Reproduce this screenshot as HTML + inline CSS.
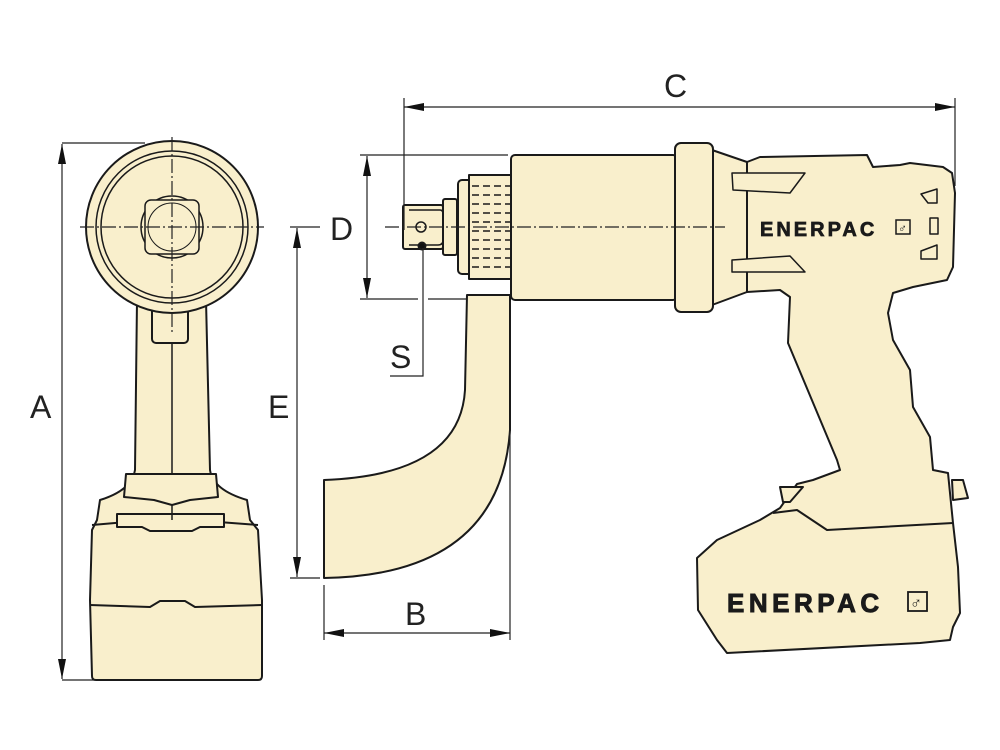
<!DOCTYPE html>
<html><head><meta charset="utf-8"><style>
html,body{margin:0;padding:0;background:#fff;width:1000px;height:750px;overflow:hidden}
svg{display:block}
text{font-family:"Liberation Sans",sans-serif}
</style></head><body>
<svg width="1000" height="750" viewBox="0 0 1000 750" xmlns="http://www.w3.org/2000/svg">
<defs>
<marker id="ar" viewBox="0 0 10 10" refX="10" refY="5" markerWidth="20" markerHeight="8" preserveAspectRatio="none" markerUnits="userSpaceOnUse" orient="auto-start-reverse"><path d="M0,0L10,5L0,10z" fill="#111"/></marker>
</defs>
<g fill="#f9efcc" stroke="#1a1a1a" stroke-width="2" stroke-linejoin="round">
<!-- LEFT VIEW -->
<path d="M137,300 L135,470 Q132,490 100,500 L97,520 L92,530 L90,600 L92,676 Q92,680 96,680 L258,680 Q262,680 262,676 L262,600 L258,530 L250,520 L247,500 Q213,490 210,470 L206,300 Z"/>
<path d="M92,525 L150,520 L192,520 L258,525" fill="none"/>
<path d="M90,605 L150,607 L160,601 L185,601 L195,607 L262,605" fill="none"/>
<path d="M126,474 L216,474 L218,497 L190,500 L172,505 L154,500 L124,497 Z"/>
<path d="M117,514 L224,514 L224,527 L200,527 L192,531 L150,531 L142,527 L117,527 Z"/>
<line x1="172" y1="343" x2="172" y2="474" stroke-width="1.5"/>
<line x1="172" y1="505" x2="172" y2="520" stroke-width="1.5"/>
<rect x="152" y="295" width="36" height="48" rx="4"/>
<circle cx="172" cy="227" r="86"/>
<circle cx="172" cy="227" r="76" stroke-width="1.5"/>
<circle cx="172" cy="227" r="71" stroke-width="1.5"/>
<circle cx="172" cy="227" r="31" stroke-width="1.5"/>
<rect x="145" y="200" width="54" height="54" rx="6" stroke-width="1.5"/>
<circle cx="172" cy="227" r="24" stroke-width="1"/>
<!-- SIDE VIEW arm -->
<path d="M467,295 L465,390 Q460,475 324,480 L324,578 Q500,575 510,430 L510,295 Z"/>
<!-- socket -->
<rect x="403" y="205" width="40" height="44" rx="2"/>
<path d="M409,210 L440,210 Q443,210 443,214 L443,240 Q443,245 438,245 L409,245" fill="none" stroke-width="1.5"/>
<rect x="443" y="199" width="14" height="56" rx="2"/>
<rect x="458" y="180" width="14" height="94" rx="4"/>
<rect x="469" y="175" width="44" height="104"/>
<g stroke-dasharray="7,4" stroke-width="1.5">
<line x1="472" y1="186" x2="511" y2="186"/><line x1="472" y1="195" x2="511" y2="195"/>
<line x1="472" y1="204" x2="511" y2="204"/><line x1="472" y1="213" x2="511" y2="213"/>
<line x1="472" y1="222" x2="511" y2="222"/><line x1="472" y1="231" x2="511" y2="231"/>
<line x1="472" y1="240" x2="511" y2="240"/><line x1="472" y1="249" x2="511" y2="249"/>
<line x1="472" y1="258" x2="511" y2="258"/><line x1="472" y1="267" x2="511" y2="267"/>
</g>
<circle cx="421" cy="227" r="5" stroke-width="1.5"/>
<circle cx="422" cy="246" r="3.5" fill="#111"/>
<rect x="511" y="155" width="166" height="145" rx="4"/>
<!-- handle + battery -->
<path d="M712,150 L747,162 L760,157 L867,155 L873,167 L900,165 L910,163 L943,167 L952,173 L955,193 L953,267 L947,280 L913,287 L893,293 L888,313 L893,340 L910,370 L913,407 L930,437 L933,470 L948,473 L953,523 L958,567 L960,613 L953,627 L950,640 L920,643 L727,653 L717,640 L698,610 L697,558 L717,540 L760,520 L780,508 L797,484 L813,480 L840,470 L837,460 L788,343 L790,297 L780,290 L747,292 L712,305 Z"/>
<path d="M953,523 L827,530 L797,510 L773,513" fill="none"/>
<path d="M780,487 L803,487 L790,502 L783,502 Z"/>
<path d="M952,480 L963,480 L968,498 L953,500 Z"/>
<line x1="747" y1="162" x2="747" y2="292"/>
<path d="M732,173 L805,173 L790,193 L733,190 Z" stroke-width="1.5"/>
<path d="M732,260 L790,256 L805,272 L732,272 Z" stroke-width="1.5"/>
<path d="M921,194 L937,189 L937,203 L928,203 Z" stroke-width="1.5"/>
<rect x="930" y="218" width="8" height="16" stroke-width="1.5"/>
<path d="M921,251 L937,245 L937,259 L921,259 Z" stroke-width="1.5"/>
<rect x="675" y="143" width="38" height="169" rx="6"/>
</g>
<!-- center lines -->
<g stroke="#222" stroke-width="1.2" stroke-dasharray="14,3,2,3" fill="none">
<line x1="80" y1="227" x2="264" y2="227"/>
<line x1="172" y1="137" x2="172" y2="335"/>
<line x1="385" y1="227" x2="725" y2="227"/>
</g>
<!-- dimensions -->
<g stroke="#222" stroke-width="1.2" fill="none">
<line x1="62" y1="143" x2="145" y2="143"/><line x1="62" y1="680" x2="95" y2="680"/>
<line x1="62" y1="144" x2="62" y2="679" marker-start="url(#ar)" marker-end="url(#ar)"/>
<line x1="404" y1="98" x2="404" y2="230"/><line x1="955" y1="98" x2="955" y2="186"/>
<line x1="404" y1="107" x2="955" y2="107" marker-start="url(#ar)" marker-end="url(#ar)"/>
<line x1="360" y1="155" x2="508" y2="155"/><line x1="360" y1="299" x2="418" y2="299"/><line x1="428" y1="299" x2="466" y2="299"/>
<line x1="367" y1="156" x2="367" y2="298" marker-start="url(#ar)" marker-end="url(#ar)"/>
<polyline points="423,248 423,376 390,376"/>
<line x1="290" y1="227" x2="320" y2="227"/><line x1="290" y1="578" x2="320" y2="578"/>
<line x1="297" y1="228" x2="297" y2="577" marker-start="url(#ar)" marker-end="url(#ar)"/>
<line x1="324" y1="585" x2="324" y2="640"/><line x1="510" y1="432" x2="510" y2="640"/>
<line x1="324" y1="633" x2="510" y2="633" marker-start="url(#ar)" marker-end="url(#ar)"/>
</g>
<g font-size="32" fill="#222">
<text x="30" y="418">A</text>
<text x="664" y="97">C</text>
<text x="330" y="240">D</text>
<text x="390" y="368">S</text>
<text x="268" y="418">E</text>
<text x="405" y="625">B</text>
</g>
<text x="760" y="236" font-size="20" font-weight="bold" fill="#1a1a1a" stroke="#1a1a1a" stroke-width="0.7" letter-spacing="3">ENERPAC</text>
<rect x="896" y="220" width="14" height="14" fill="none" stroke="#1a1a1a" stroke-width="1.5"/>
<text x="898" y="232" font-size="12" font-weight="bold" fill="#1a1a1a">♂</text>
<text x="727" y="612" font-size="26" font-weight="bold" fill="#1a1a1a" stroke="#1a1a1a" stroke-width="0.9" letter-spacing="4.5">ENERPAC</text>
<rect x="908" y="592" width="19" height="19" fill="none" stroke="#1a1a1a" stroke-width="1.8"/>
<text x="910" y="608" font-size="16" font-weight="bold" fill="#1a1a1a">♂</text>
</svg>
</body></html>
